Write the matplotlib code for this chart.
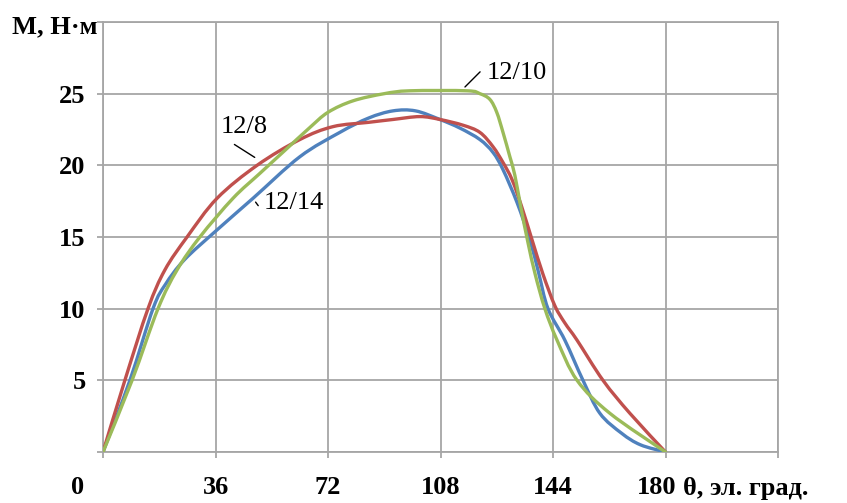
import matplotlib.pyplot as plt
import matplotlib.transforms as mtransforms
from matplotlib.path import Path
from matplotlib.patches import PathPatch
from matplotlib.ticker import FixedLocator

# M(theta) curves
x_12_8 = [0, 7, 14.4, 19.8, 26.9, 36.5, 49.3, 63, 73.6, 85, 92.8, 101.4, 107.8,
          115.2, 120.6, 124.8, 128, 130.9, 134, 137.3, 140.8, 144.6, 147.8,
          151.7, 160, 168.6, 180]
y_12_8 = [0, 5, 10, 12.7, 15, 17.7, 20, 21.8, 22.7, 23.0, 23.2, 23.4, 23.2,
          22.8, 22.3, 21.3, 20.2, 19.0, 17.1, 14.8, 12.4, 10.2, 9.0,
          7.8, 5, 2.7, 0]

x_12_14 = [0, 8.6, 16, 20, 26, 36, 48, 63, 75.8, 85, 92.8, 100, 107.8, 114.2,
           120.6, 124.8, 128, 132.5, 136.6, 139.4, 142.4, 147.8, 153.6, 159,
           166, 172, 180]
y_12_14 = [0, 5, 10, 11.7, 13.4, 15.4, 17.7, 20.6, 22.3, 23.3, 23.8, 23.8,
           23.2, 22.6, 21.8, 20.9, 19.7, 17.4, 14.8, 12.5, 10, 7.8, 5, 2.7,
           1.3, 0.5, 0]

x_12_10 = [0, 9.3, 17.6, 23.7, 31, 41.6, 50, 58, 66, 72, 80, 90, 98.2,
           116.5, 120.6, 123.8, 126, 128, 130.2, 131.8, 133.6, 136, 138.3,
           141.4, 145.3, 151.7, 162.2, 180]
y_12_10 = [0, 5, 10, 12.7, 15, 17.7, 19.4, 21.0, 22.6, 23.7, 24.5, 25.0, 25.2,
           25.2, 25.0, 24.6, 23.7, 22.3, 20.6, 19.3, 17.2, 14.6, 12.4,
           10, 7.8, 5, 2.7, 0]

x_ticks = [0, 36, 72, 108, 144, 180, 216]
x_labels = ['', '36', '72', '108', '144', '180', '']
y_ticks = [0, 5, 10, 15, 20, 25, 30]
y_labels = ['', '5', '10', '15', '20', '25', '']

red = '#C0504D'
blue = '#4F81BD'
green = '#9BBB59'
grid_c = '#A6A6A6'


def smooth_line(ax, xs, ys, color, z):
    # Excel-style smoothed line: Bezier segments through the data points
    pts = list(zip(xs, ys))
    verts = [pts[0]]
    codes = [Path.MOVETO]
    n = len(pts)
    for i in range(n - 1):
        p0 = pts[i - 1] if i > 0 else pts[i]
        p1 = pts[i]
        p2 = pts[i + 1]
        p3 = pts[i + 2] if i + 2 < n else pts[i + 1]
        c1 = (p1[0] + (p2[0] - p0[0]) / 6, p1[1] + (p2[1] - p0[1]) / 6)
        c2 = (p2[0] - (p3[0] - p1[0]) / 6, p2[1] - (p3[1] - p1[1]) / 6)
        verts += [c1, c2, p2]
        codes += [Path.CURVE4] * 3
    ax.add_patch(PathPatch(Path(verts, codes), fill=False, edgecolor=color,
                           lw=2.4, capstyle='round', joinstyle='round',
                           zorder=z))


plt.rcParams['font.family'] = ['Liberation Serif', 'DejaVu Serif']

fig = plt.figure(figsize=(8.47, 5.03), dpi=100)
ax = fig.add_axes([103 / 847, 51 / 503, 675 / 847, 430 / 503])

smooth_line(ax, x_12_14, y_12_14, blue, 3)
smooth_line(ax, x_12_8, y_12_8, red, 4)
smooth_line(ax, x_12_10, y_12_10, green, 5)

ax.set_xlim(0, 216)
ax.set_ylim(0, 30)
ax.xaxis.set_major_locator(FixedLocator(x_ticks))
ax.yaxis.set_major_locator(FixedLocator(y_ticks))
ax.set_xticklabels(x_labels)
ax.set_yticklabels(y_labels)
ax.grid(True, color=grid_c, lw=1.3)
ax.set_axisbelow(True)
for s in ax.spines.values():
    s.set_color(grid_c)
    s.set_linewidth(1.3)

ax.tick_params(axis='x', length=4, width=1.3, color=grid_c, pad=13.5,
               labelsize=19)
ax.tick_params(axis='y', length=4.5, width=1.3, color=grid_c, pad=8,
               labelsize=19)
for lab in ax.get_xticklabels() + ax.get_yticklabels():
    lab.set_fontweight('bold')
# the "180" label sits a little left of its gridline
lab180 = ax.get_xticklabels()[5]
lab180.set_transform(lab180.get_transform() +
                     mtransforms.ScaledTranslation(-9 / 100, 0, fig.dpi_scale_trans))

# axis captions
fig.text(12 / 847, 1 - 27 / 503, 'M, Н·м', fontsize=19, fontweight='bold',
         ha='left', va='center')
fig.text(683 / 847, 1 - 488 / 503, 'θ, эл. град.', fontsize=19,
         fontweight='bold', ha='left', va='center')
fig.text(78 / 847, 1 - 488 / 503, '0', fontsize=19, fontweight='bold',
         ha='center', va='center')

# curve labels with leader lines
ax.text(132.5, 26.45, '12/10', fontsize=19, ha='center', va='center')
ax.annotate('', xy=(115.2, 25.33), xytext=(121.3, 26.66),
            arrowprops=dict(arrowstyle='-', color='black', lw=1))
ax.text(45.1, 22.68, '12/8', fontsize=19, ha='center', va='center')
ax.annotate('', xy=(49.3, 20.45), xytext=(41.3, 21.56),
            arrowprops=dict(arrowstyle='-', color='black', lw=1))
ax.text(61.1, 17.38, '12/14', fontsize=19, ha='center', va='center')
ax.annotate('', xy=(50.2, 17.03), xytext=(48.3, 17.59),
            arrowprops=dict(arrowstyle='-', color='black', lw=1))

fig.savefig('out.png', dpi=100)
